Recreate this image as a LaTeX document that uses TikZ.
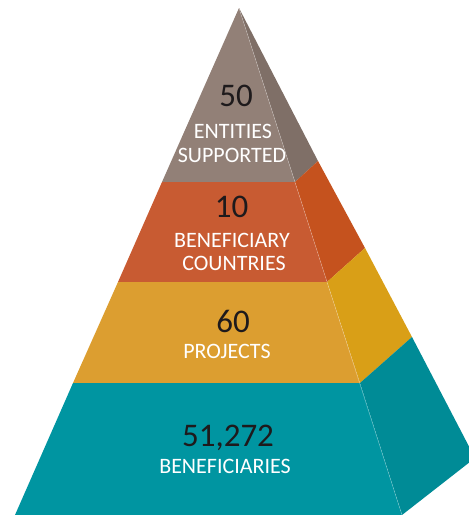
\documentclass[tikz,border=0pt]{standalone}
\usepackage{fontspec}
\setmainfont{Carlito}
\usepackage{xcolor}
\usetikzlibrary{positioning}
\definecolor{taupe}{HTML}{928077}
\definecolor{taupeside}{HTML}{7F6F67}
\definecolor{rust}{HTML}{C85B32}
\definecolor{rustside}{HTML}{C5521E}
\definecolor{gold}{HTML}{DC9E30}
\definecolor{goldside}{HTML}{D99F17}
\definecolor{teal}{HTML}{0095A1}
\definecolor{tealside}{HTML}{008B96}
\definecolor{numblack}{HTML}{1E1A1C}

\begin{document}
\begin{tikzpicture}[x=1pt,y=-1pt,
    num/.style={text=numblack,font=\fontsize{33}{33}\selectfont,anchor=base,inner sep=0pt},
    lbl/.style={text=white,font=\fontsize{22}{22}\selectfont,anchor=base,inner sep=0pt}]
  \useasboundingbox (0,0) rectangle (469,515);
  \clip (0,0) rectangle (469,515);
% Corners of the pyramid: front left (l), front right (r), side (s)
  \coordinate (apex) at (239,8);
  \coordinate (l1) at (162,182); \coordinate (r1) at (295,182); \coordinate (s1) at (318,161);
  \coordinate (l2) at (118,282); \coordinate (r2) at (327,282); \coordinate (s2) at (365,248);
  \coordinate (l3) at (73,383);  \coordinate (r3) at (360,383); \coordinate (s3) at (412,337);
  \coordinate (l4) at (15,515);  \coordinate (r4) at (402,515); \coordinate (s4) at (475,458);
% side faces
  \fill[taupeside] (apex) -- (r1) -- (s1) -- cycle;
  \fill[rustside] (r1) -- (r2) -- (s2) -- (s1) -- cycle;
  \fill[goldside] (r2) -- (r3) -- (s3) -- (s2) -- cycle;
  \fill[tealside] (r3) -- (r4) -- (s4) -- (s3) -- cycle;
% front faces
  \fill[taupe] (apex) -- (l1) -- (r1) -- cycle;
  \fill[rust] (l1) -- (l2) -- (r2) -- (r1) -- cycle;
  \fill[gold] (l2) -- (l3) -- (r3) -- (r2) -- cycle;
  \fill[teal] (l3) -- (l4) -- (r4) -- (r3) -- cycle;
  \draw[white,opacity=.4,line width=.4pt] (apex) -- (r4);
% texts
  \node[num] (entnum) at (236,106) {50};
  \node[lbl] (ent1) at (233,138) {ENTITIES};
  \node[lbl] (ent2) at (232,162) {SUPPORTED};
  \node[num] (ctrnum) at (231.5,217) {10};
  \node[lbl] (ctr1) at (232,247) {BENEFICIARY};
  \node[lbl] (ctr2) at (234,270) {COUNTRIES};
  \node[num] (prjnum) at (233,332) {60};
  \node[lbl] (prj) at (227,358) {PROJECTS};
  \node[num] (bennum) at (228,446) {51,272};
  \node[lbl] (ben) at (225,473) {BENEFICIARIES};
\end{tikzpicture}
\end{document}
